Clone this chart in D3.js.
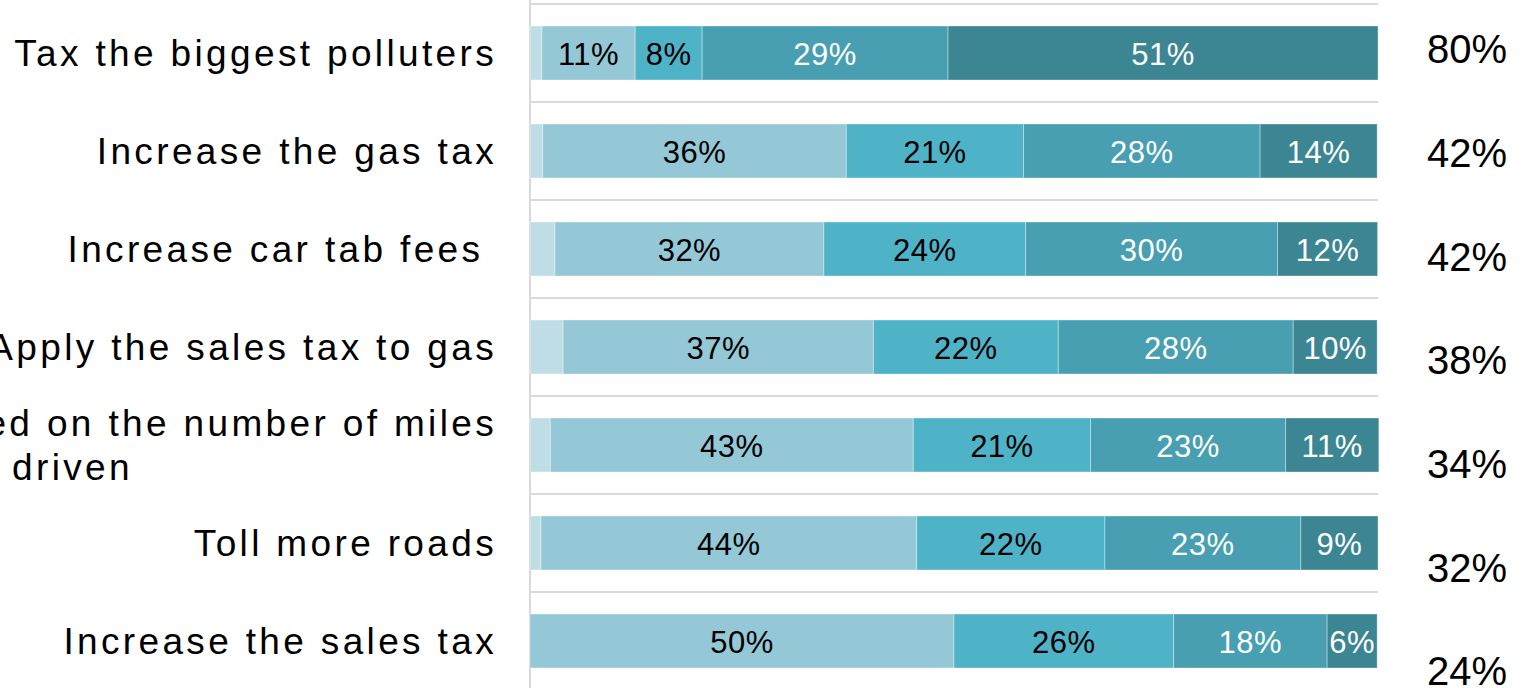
<!DOCTYPE html>
<html>
<head>
<meta charset="utf-8">
<script src="https://cdnjs.cloudflare.com/ajax/libs/d3/7.8.5/d3.min.js"></script>
<style>
  body { margin: 0; background: #fff; overflow: hidden; }
  svg { display: block; font-family: "Liberation Sans", Arial, sans-serif; }
  .cat { white-space: pre; }
</style>
</head>
<body>
<svg></svg>
<script>
// Data
let categories = [
  "Tax the biggest polluters",
  "Increase the gas tax",
  "Increase car tab fees ",
  "Apply the sales tax to gas",
  "Charge a fee based on the number of miles\ndriven",
  "Toll more roads",
  "Increase the sales tax",
];
let keys = ["Don't know", "Strongly oppose", "Somewhat oppose", "Somewhat support", "Strongly support"];
let dontKnow = [1.4, 1.5, 2.95, 3.9, 2.4, 1.3, 0];
let stronglyOppose = [11.0, 35.8, 31.7, 36.6, 42.8, 44.3, 50.0];
let somewhatOppose = [7.9, 20.9, 23.8, 21.8, 20.9, 22.2, 25.9];
let somewhatSupport = [29.0, 27.9, 29.7, 27.7, 23.0, 23.1, 18.1];
let stronglySupport = [50.7, 13.8, 11.8, 9.9, 11.0, 9.1, 5.9];
let totalSupport = [80, 42, 42, 38, 34, 32, 24];

let colors = ["#bfdde5", "#94c8d6", "#4fb3c8", "#479fb1", "#3b8692"];
let textColors = [null, "#000", "#000", "#fff", "#fff"];

let width = 1521;
let height = 688;

let rows = categories.map((c, i) => ({
  category: c,
  "Don't know": dontKnow[i],
  "Strongly oppose": stronglyOppose[i],
  "Somewhat oppose": somewhatOppose[i],
  "Somewhat support": somewhatSupport[i],
  "Strongly support": stronglySupport[i],
  total: totalSupport[i],
}));

let svg = d3.select("svg").attr("width", width).attr("height", height);

let xScale = d3.scaleLinear().domain([0, 100]).range([530, 1378]);
let yScale = d3
  .scaleBand()
  .domain(categories)
  .range([4, 690])
  .paddingInner(0.449)
  .paddingOuter(0.2245);
// totals column sits on its own, slightly wider spacing
let totalScale = d3.scalePoint().domain(categories).range([49, 671]);

// gridlines between rows
let gap = (yScale.step() - yScale.bandwidth()) / 2;
let gridYs = categories.map((c) => yScale(c) - gap).concat([yScale(categories[categories.length - 1]) + yScale.bandwidth() + gap]);
svg
  .append("g")
  .selectAll("line")
  .data(gridYs)
  .enter()
  .append("line")
  .attr("x1", xScale(0))
  .attr("x2", xScale(100))
  .attr("y1", (d) => d)
  .attr("y2", (d) => d)
  .attr("stroke", "#d9d9d9")
  .attr("stroke-width", 2);

// vertical axis line
let yAxis = d3.axisLeft(yScale).tickSize(0).tickSizeOuter(0).tickFormat("");
let axisG = svg
  .append("g")
  .attr("transform", "translate(" + xScale(0) + ",0)")
  .call(yAxis);
axisG.select(".domain").attr("stroke", "#d9d9d9").attr("stroke-width", 2).attr("d", "M0,0V" + height);

// bars
let series = d3.stack().keys(keys)(rows);

let layers = svg
  .append("g")
  .selectAll("g")
  .data(series)
  .enter()
  .append("g")
  .attr("fill", (d, i) => colors[i]);

layers
  .selectAll("rect")
  .data((d) => d)
  .enter()
  .append("rect")
  .attr("x", (d) => xScale(d[0]))
  .attr("y", (d) => yScale(d.data.category))
  .attr("width", (d) => xScale(d[1]) - xScale(d[0]))
  .attr("height", yScale.bandwidth())
  .attr("stroke", "rgba(255,255,255,0.35)")
  .attr("stroke-width", 1);

// segment labels
series.forEach((s, i) => {
  if (!textColors[i]) return;
  svg
    .append("g")
    .selectAll("text")
    .data(s)
    .enter()
    .append("text")
    .attr("x", (d) => (xScale(d[0]) + xScale(d[1])) / 2)
    .attr("y", (d) => yScale(d.data.category) + yScale.bandwidth() / 2)
    .attr("dy", "0.4em")
    .attr("text-anchor", "middle")
    .attr("font-size", 31)
    .attr("letter-spacing", 0.5)
    .attr("fill", textColors[i])
    .text((d) => Math.round(d[1] - d[0]) + "%");
});

// category labels (multi-line ones are centred on each other, block right aligned)
let labelRight = xScale(0) - 33;
let lineHeight = 1.17;
categories.forEach((c) => {
  let lines = c.split("\n");
  let cy = yScale(c) + yScale.bandwidth() / 2;
  let g = svg.append("g");
  let texts = lines.map((line, j) =>
    g
      .append("text")
      .attr("class", "cat")
      .attr("font-size", 37)
      .attr("letter-spacing", 3.35)
      .attr("fill", "#000")
      .attr("y", cy)
      .attr("dy", (0.35 + (j - (lines.length - 1) / 2) * lineHeight) + "em")
      .text(line)
  );
  let widest = d3.max(texts, (t) => t.node().getComputedTextLength());
  if (lines.length === 1) {
    texts[0].attr("x", labelRight).attr("text-anchor", "end");
  } else {
    texts.forEach((t) => t.attr("x", labelRight - widest / 2).attr("text-anchor", "middle"));
  }
});

// totals column
svg
  .append("g")
  .selectAll("text")
  .data(rows)
  .enter()
  .append("text")
  .attr("x", 1507)
  .attr("y", (d) => totalScale(d.category))
  .attr("dy", "0.358em")
  .attr("text-anchor", "end")
  .attr("font-size", 40)
  .attr("fill", "#000")
  .text((d) => d.total + "%");
</script>
</body>
</html>
